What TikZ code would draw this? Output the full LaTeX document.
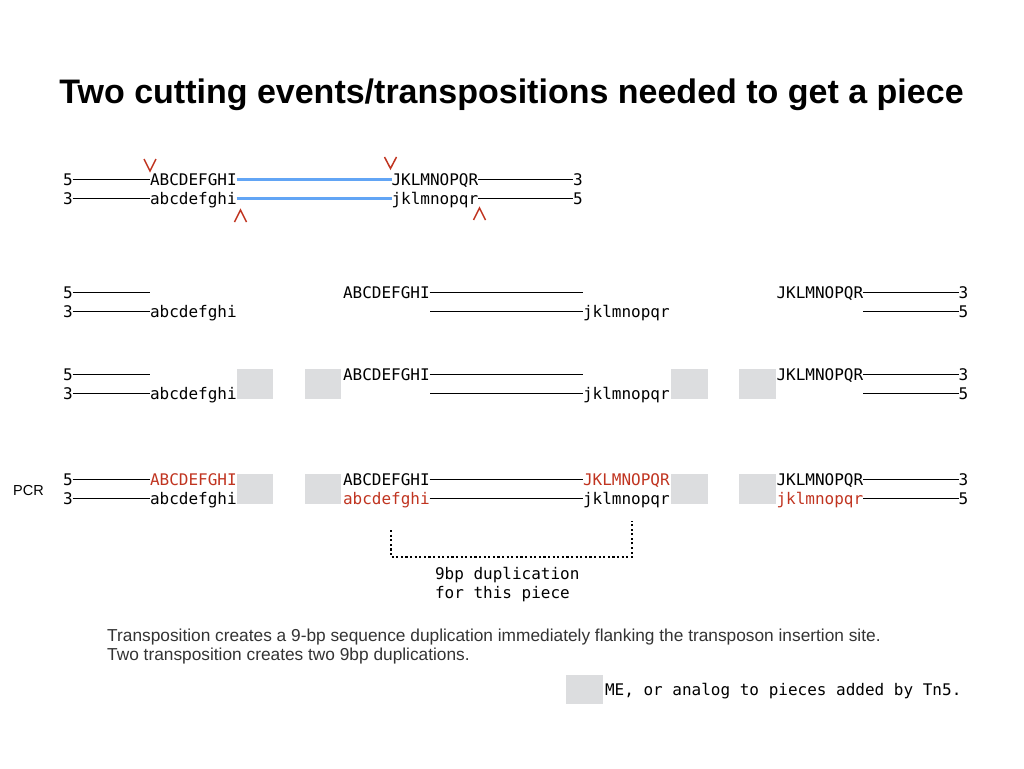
\documentclass[tikz,border=0pt]{standalone}
\usepackage{fontspec}
\setmainfont{Liberation Sans}
\newfontfamily\seqfont{DejaVu Sans Mono}
\definecolor{cutred}{RGB}{192,52,32}
\definecolor{linkblue}{RGB}{98,165,245}
\definecolor{mefill}{RGB}{220,221,223}
\definecolor{notegray}{RGB}{51,51,51}
\tikzset{
  seq/.style={font=\seqfont\fontsize{16}{19}\selectfont, anchor=base west, inner sep=0pt, outer sep=0pt},
  newseq/.style={seq, text=cutred},
  strand/.style={line width=1.1pt, black},
  linker/.style={line width=2.2pt, linkblue},
  mebox/.style={fill=mefill, draw=none},
  caret/.style={draw=cutred, line width=1.5pt, line join=miter},
  dotline/.style={line width=2.2pt, dash pattern=on 2.1pt off 2.5pt},
}
% join two sequence nodes at dash height
\newcommand\lnk[3][strand]{\draw[#1] ([yshift=5.5pt]#2.base east) -- ([yshift=5.5pt]#3.base west);}
\begin{document}
\begin{tikzpicture}[x=1pt,y=-1pt]
\useasboundingbox (0,0) rectangle (1024,768);

% title
\node[font=\bfseries\fontsize{34}{40}\selectfont, anchor=base, inner sep=0pt] (title) at (511.5,103) {Two cutting events/transpositions needed to get a piece};

% ---------- intact target with the two cut sites ----------
\node[seq] (a5) at (63,185) {5};
\node[seq] (aA) at (150,185) {ABCDEFGHI};
\node[seq] (aJ) at (391.5,185) {JKLMNOPQR};
\node[seq] (a3) at (573,185) {3};
\lnk{a5}{aA} \lnk[linker]{aA}{aJ} \lnk{aJ}{a3}
\node[seq] (b3) at (63,204) {3};
\node[seq] (ba) at (150,204) {abcdefghi};
\node[seq] (bj) at (391.5,204) {jklmnopqr};
\node[seq] (b5) at (573,204) {5};
\lnk{b3}{ba} \lnk[linker]{ba}{bj} \lnk{bj}{b5}
% cut marks
\draw[caret] (144,159) -- (150,171) -- (156,159);
\draw[caret] (384.5,157) -- (390.5,168.5) -- (396.5,157);
\draw[caret] (234.5,222) -- (240.5,210) -- (246.5,222);
\draw[caret] (473.5,220) -- (479.5,208) -- (485.5,220);

% ---------- fragments after cutting ----------
\node[seq] (c5) at (63,298) {5};
\coordinate (c5e) at (150,292.5);
\draw[strand] ([yshift=5.5pt]c5.base east) -- (c5e);
\node[seq] (cA) at (343,298) {ABCDEFGHI};
\coordinate (cAe) at (583,292.5);
\draw[strand] ([yshift=5.5pt]cA.base east) -- (cAe);
\node[seq] (cJ) at (776.5,298) {JKLMNOPQR};
\node[seq] (c3) at (958.5,298) {3};
\lnk{cJ}{c3}
\node[seq] (d3) at (63,317) {3};
\node[seq] (da) at (150,317) {abcdefghi};
\lnk{d3}{da}
\coordinate (djs) at (430,311.5);
\node[seq] (dj) at (583,317) {jklmnopqr};
\draw[strand] (djs) -- ([yshift=5.5pt]dj.base west);
\coordinate (d5s) at (863.3,311.5);
\node[seq] (d5) at (958.5,317) {5};
\draw[strand] (d5s) -- ([yshift=5.5pt]d5.base west);

% ---------- fragments with adaptor ends ----------
\node[seq] (e5) at (63,380) {5};
\coordinate (e5e) at (150,374.5);
\draw[strand] ([yshift=5.5pt]e5.base east) -- (e5e);
\node[seq] (eA) at (343,380) {ABCDEFGHI};
\coordinate (eAe) at (583,374.5);
\draw[strand] ([yshift=5.5pt]eA.base east) -- (eAe);
\node[seq] (eJ) at (776.5,380) {JKLMNOPQR};
\node[seq] (e3) at (958.5,380) {3};
\lnk{eJ}{e3}
\node[seq] (f3) at (63,399) {3};
\node[seq] (fa) at (150,399) {abcdefghi};
\lnk{f3}{fa}
\coordinate (fjs) at (430,393.5);
\node[seq] (fj) at (583,399) {jklmnopqr};
\draw[strand] (fjs) -- ([yshift=5.5pt]fj.base west);
\coordinate (f5s) at (863.3,393.5);
\node[seq] (f5) at (958.5,399) {5};
\draw[strand] (f5s) -- ([yshift=5.5pt]f5.base west);
\fill[mebox] (237,369) rectangle (273,399);
\fill[mebox] (304.5,369) rectangle (341,399);
\fill[mebox] (671,369) rectangle (707.5,399);
\fill[mebox] (739,369) rectangle (775.5,399);

% ---------- after PCR fill-in ----------
\node[font=\fontsize{14.5}{17}\selectfont, anchor=base west, inner sep=0pt] (pcr) at (13,495) {PCR};
\node[seq] (g5) at (63,485) {5};
\node[newseq] (gA) at (150,485) {ABCDEFGHI};
\lnk{g5}{gA}
\node[seq] (gB) at (343,485) {ABCDEFGHI};
\node[newseq] (gJ) at (583,485) {JKLMNOPQR};
\lnk{gB}{gJ}
\node[seq] (gK) at (776.5,485) {JKLMNOPQR};
\node[seq] (g3) at (958.5,485) {3};
\lnk{gK}{g3}
\node[seq] (h3) at (63,504) {3};
\node[seq] (ha) at (150,504) {abcdefghi};
\lnk{h3}{ha}
\node[newseq] (hb) at (343,504) {abcdefghi};
\node[seq] (hj) at (583,504) {jklmnopqr};
\lnk{hb}{hj}
\node[newseq] (hk) at (776.5,504) {jklmnopqr};
\node[seq] (h5) at (958.5,504) {5};
\lnk{hk}{h5}
\fill[mebox] (237,474) rectangle (273,504);
\fill[mebox] (304.5,474) rectangle (341,504);
\fill[mebox] (671,474) rectangle (707.5,504);
\fill[mebox] (739,474) rectangle (775.5,504);

% duplication bracket
\coordinate (brL) at (391,530);
\coordinate (brLB) at (391,557);
\coordinate (brRB) at (632,557);
\coordinate (brR) at (632,521);
\draw[dotline] (brL) -- (brLB) -- (brRB) -- (brR);
\node[seq] (dup1) at (435,579) {9bp duplication};
\node[seq] (dup2) at (435,598) {for this piece};

% notes
\node[font=\fontsize{17.3}{19}\selectfont, text=notegray, anchor=base west, inner sep=0pt] (note1) at (107,641) {Transposition creates a 9-bp sequence duplication immediately flanking the transposon insertion site.};
\node[font=\fontsize{17.3}{19}\selectfont, text=notegray, anchor=base west, inner sep=0pt] (note2) at (107,660) {Two transposition creates two 9bp duplications.};

% legend
\fill[mebox] (566,675) rectangle (603,704);
\node[seq] (legend) at (605,695) {ME, or analog to pieces added by Tn5.};
\end{tikzpicture}
\end{document}
